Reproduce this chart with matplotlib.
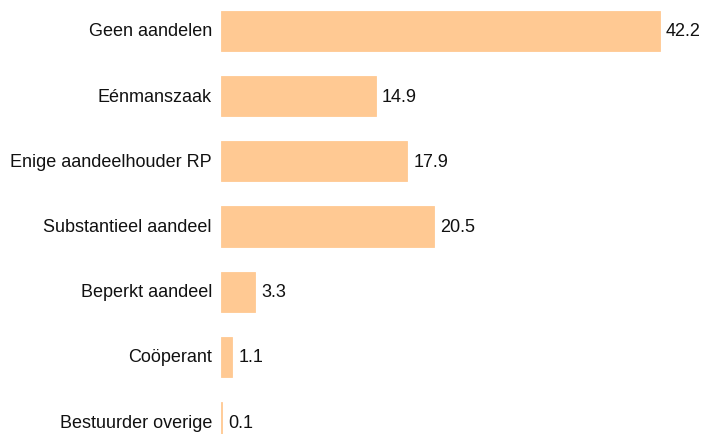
import matplotlib.pyplot as plt

plt.rcParams['font.family'] = ['Liberation Sans', 'DejaVu Sans']

categories = ['Geen aandelen', 'Eénmanszaak', 'Enige aandeelhouder RP',
              'Substantieel aandeel', 'Beperkt aandeel', 'Coöperant',
              'Bestuurder overige']
values = [42.2, 14.9, 17.9, 20.5, 3.3, 1.1, 0.1]

bar_color = '#FFC993'

fig = plt.figure(figsize=(7.04, 4.35), dpi=100)
ax = fig.add_axes([221 / 704, 0, 439 / 704, 1])

pos = list(range(len(categories)))
ax.barh(pos, values, height=0.614, color=bar_color, edgecolor=bar_color,
        linewidth=0.6, clip_on=False)

ax.set_xlim(0, 42.2)
ax.set_ylim(6.184, -0.491)

for y, (name, v) in enumerate(zip(categories, values)):
    ax.annotate(name, xy=(0, y), xytext=(-6.5, 0), textcoords='offset points',
                ha='right', va='center', fontsize=13, color='#111111',
                annotation_clip=False)
    ax.annotate(f'{v:.1f}', xy=(v, y), xytext=(4.3, 0), textcoords='offset points',
                ha='left', va='center', fontsize=13, color='#111111',
                annotation_clip=False)

ax.axis('off')
fig.savefig('out.png', dpi=100)
